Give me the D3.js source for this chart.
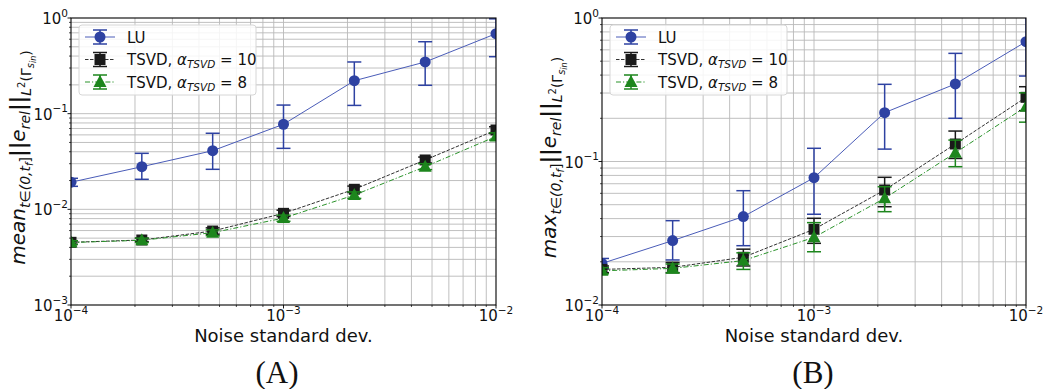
<!DOCTYPE html>
<html>
<head>
<meta charset="utf-8">
<script src="https://cdn.jsdelivr.net/npm/d3@7"></script>
<style>
  body { margin: 0; background: #fff; }
  text { font-family: "DejaVu Sans", sans-serif; fill: #111; }
</style>
</head>
<body>
<svg id="chart" width="1045" height="389"></svg>
<script>
// noise levels (x) shared by both panels
const noiseStd = [1e-4, 2.154e-4, 4.642e-4, 1e-3, 2.154e-3, 4.642e-3, 1e-2]

// (A) mean over time of relative error
const meanLU     = [0.0192, 0.0279, 0.0410, 0.0775, 0.221, 0.347, 0.686]
const meanLULo   = [0.0174, 0.0206, 0.0262, 0.0434, 0.122, 0.198, 0.394]
const meanLUHi   = [0.0211, 0.0385, 0.0624, 0.123, 0.347, 0.565, 0.98]
const meanT10    = [0.00452, 0.00478, 0.00593, 0.00908, 0.0162, 0.0328, 0.0675]
const meanT10Lo  = [0.0043, 0.0046, 0.0055, 0.0084, 0.0150, 0.0305, 0.0620]
const meanT10Hi  = [0.0047, 0.0050, 0.0064, 0.0098, 0.0175, 0.0352, 0.0730]
const meanT8     = [0.00450, 0.00475, 0.00570, 0.00810, 0.0141, 0.0279, 0.0578]
const meanT8Lo   = [0.0043, 0.0045, 0.0053, 0.0075, 0.0130, 0.0260, 0.0530]
const meanT8Hi   = [0.0047, 0.0050, 0.0061, 0.0087, 0.0152, 0.0300, 0.0630]

// (B) max over time of relative error
const maxLU      = [0.0195, 0.0281, 0.0413, 0.0771, 0.219, 0.347, 0.684]
const maxLULo    = [0.0180, 0.0206, 0.0259, 0.0429, 0.122, 0.200, 0.394]
const maxLUHi    = [0.0211, 0.0387, 0.0626, 0.1236, 0.345, 0.567, 1.05]
const maxT10     = [0.0177, 0.0183, 0.0215, 0.0337, 0.0633, 0.1324, 0.280]
const maxT10Lo   = [0.0168, 0.0168, 0.0187, 0.0269, 0.0484, 0.105, 0.226]
const maxT10Hi   = [0.0187, 0.0198, 0.0245, 0.0402, 0.0776, 0.163, 0.332]
const maxT8      = [0.0173, 0.0180, 0.0204, 0.0296, 0.0554, 0.115, 0.241]
const maxT8Lo    = [0.0165, 0.0167, 0.0177, 0.0235, 0.0447, 0.092, 0.188]
const maxT8Hi    = [0.0182, 0.0193, 0.0231, 0.0375, 0.0667, 0.141, 0.301]

const xTickExps = [-4, -3, -2]
const xLabel = "Noise standard dev."
const panelTags = ["(A)", "(B)"]

const styles = [
    {color: "#2e42a2", lineColor: "#4a5cb8", marker: "circle", dash: null},
    {color: "#1a1a1a", lineColor: "#333", marker: "square", dash: "3.5,1.5"},
    {color: "#1d861d", lineColor: "#2a932a", marker: "triangle", dash: "5,2,1.2,2"},
]

const panels = [
    {left: 71, right: 496, top: 18, bottom: 305, yExps: [-3, 0], op: "mean", cx: 25, tagX: 277,
     series: [[meanLU, meanLULo, meanLUHi], [meanT10, meanT10Lo, meanT10Hi], [meanT8, meanT8Lo, meanT8Hi]]},
    {left: 602, right: 1026, top: 18, bottom: 305, yExps: [-2, 0], op: "max", cx: 556, tagX: 813,
     series: [[maxLU, maxLULo, maxLUHi], [maxT10, maxT10Lo, maxT10Hi], [maxT8, maxT8Lo, maxT8Hi]]},
]

const svg = d3.select("#chart")

function powLabel(sel, exp, anchor) {
    const t = sel.append("text").attr("text-anchor", anchor).style("font-size", "15px")
    t.append("tspan").text("10")
    t.append("tspan").attr("dy", -7.5).style("font-size", "10.5px").text(exp < 0 ? "\u2212" + (-exp) : String(exp))
    return t
}

function drawMarker(g, type, x, y, color) {
    if (type === "circle") g.append("circle").attr("cx", x).attr("cy", y).attr("r", 5.5).attr("fill", color)
    else if (type === "square") g.append("rect").attr("x", x - 5.5).attr("y", y - 5.5).attr("width", 11).attr("height", 11).attr("fill", color)
    else g.append("path").attr("d", `M${x},${y - 7}L${x + 6.5},${y + 5}L${x - 6.5},${y + 5}Z`).attr("fill", color)
}

function errBar(g, x, y0, y1, color, cap) {
    g.append("line").attr("x1", x).attr("x2", x).attr("y1", y0).attr("y2", y1).attr("stroke", color).attr("stroke-width", 1.5)
    ;[y0, y1].forEach(y => g.append("line").attr("x1", x - cap).attr("x2", x + cap).attr("y1", y).attr("y2", y)
        .attr("stroke", color).attr("stroke-width", 1.5))
}

panels.forEach((p, pi) => {
    const x = d3.scaleLog().domain([1e-4, 1e-2]).range([p.left, p.right])
    const y = d3.scaleLog().domain([10 ** p.yExps[0], 10 ** p.yExps[1]]).range([p.bottom, p.top])
    const g = svg.append("g")

    // grid, major + minor
    const xAll = [], yAll = []
    for (let e = -4; e < -2; e++) for (let m = 1; m < 10; m++) xAll.push(m * 10 ** e)
    for (let e = p.yExps[0]; e < p.yExps[1]; e++) for (let m = 1; m < 10; m++) yAll.push(m * 10 ** e)
    g.selectAll(".gx").data(xAll.slice(1)).join("line")
        .attr("x1", d => x(d)).attr("x2", d => x(d)).attr("y1", p.top).attr("y2", p.bottom)
        .attr("stroke", "#b9b9b9").attr("stroke-width", 0.9)
    g.selectAll(".gy").data(yAll.slice(1)).join("line")
        .attr("y1", d => y(d)).attr("y2", d => y(d)).attr("x1", p.left).attr("x2", p.right)
        .attr("stroke", "#b9b9b9").attr("stroke-width", 0.9)

    // ticks
    xAll.concat([1e-2]).forEach(d => {
        const major = Math.abs(Math.log10(d) - Math.round(Math.log10(d))) < 1e-9
        g.append("line").attr("x1", x(d)).attr("x2", x(d)).attr("y1", p.bottom).attr("y2", p.bottom + (major ? 3.5 : 2))
            .attr("stroke", "#000").attr("stroke-width", major ? 0.9 : 0.7)
    })
    yAll.concat([1]).forEach(d => {
        const major = Math.abs(Math.log10(d) - Math.round(Math.log10(d))) < 1e-9
        g.append("line").attr("y1", y(d)).attr("y2", y(d)).attr("x1", p.left).attr("x2", p.left - (major ? 3.5 : 2))
            .attr("stroke", "#000").attr("stroke-width", major ? 0.9 : 0.7)
    })
    xTickExps.forEach(e => powLabel(g, e, "middle").attr("x", x(10 ** e)).attr("y", p.bottom + 16))
    for (let e = p.yExps[0]; e <= p.yExps[1]; e++)
        powLabel(g, e, "end").attr("x", p.left - 3).attr("y", y(10 ** e) + 6)

    // data, clipped to axes
    const clipId = "clip" + pi
    svg.append("clipPath").attr("id", clipId).append("rect")
        .attr("x", p.left).attr("y", p.top).attr("width", p.right - p.left).attr("height", p.bottom - p.top)
    const dg = g.append("g").attr("clip-path", `url(#${clipId})`)
    p.series.forEach(([vals, lo, hi], si) => {
        const st = styles[si]
        const line = d3.line().x((d, i) => x(noiseStd[i])).y(d => y(d))
        dg.append("path").attr("d", line(vals)).attr("fill", "none").attr("stroke", st.lineColor)
            .attr("stroke-width", 1).attr("stroke-dasharray", st.dash)
        vals.forEach((v, i) => errBar(dg, x(noiseStd[i]), y(lo[i]), y(hi[i]), st.color, 7))
        vals.forEach((v, i) => drawMarker(dg, st.marker, x(noiseStd[i]), y(v), st.color))
    })

    // frame
    g.append("rect").attr("x", p.left).attr("y", p.top).attr("width", p.right - p.left).attr("height", p.bottom - p.top)
        .attr("fill", "none").attr("stroke", "#000").attr("stroke-width", 1.1)

    // legend
    const lg = g.append("g").attr("transform", `translate(${p.left + 8},${p.top + 7})`)
    lg.append("rect").attr("width", 177).attr("height", 70).attr("rx", 3)
        .attr("fill", "#fff").attr("fill-opacity", 0.85).attr("stroke", "#d6d6d6")
    styles.forEach((st, si) => {
        const cy = 12 + si * 22.5
        lg.append("line").attr("x1", 6).attr("x2", 36).attr("y1", cy).attr("y2", cy)
            .attr("stroke", st.lineColor).attr("stroke-width", 1).attr("stroke-dasharray", st.dash)
        errBar(lg, 21, cy - 7, cy + 7, st.color, 7)
        drawMarker(lg, st.marker, 21, cy, st.color)
        const t = lg.append("text").attr("x", 48).attr("y", cy + 5.5).style("font-size", "15px")
        if (si === 0) t.text("LU")
        else {
            t.append("tspan").text("TSVD, ")
            t.append("tspan").style("font-style", "italic").text("\u03b1")
            t.append("tspan").attr("dy", 3).style("font-style", "italic").style("font-size", "10.5px").text("TSVD")
            t.append("tspan").attr("dy", -3).text(" = " + (si === 1 ? "10" : "8"))
        }
    })

    // x label and panel tag
    g.append("text").attr("x", (p.left + p.right) / 2).attr("y", p.bottom + 37).attr("text-anchor", "middle")
        .style("font-size", "18px").text(xLabel)
    g.append("text").attr("x", p.tagX).attr("y", 383).attr("text-anchor", "middle")
        .style("font-family", "'Liberation Serif', serif").style("font-size", "31px").text(panelTags[pi])

    // y label (math)
    const yl = g.append("text").attr("transform", `translate(${p.cx},${(p.top + p.bottom) / 2 - 4}) rotate(-90)`)
        .attr("text-anchor", "middle").style("font-size", "20px")
    const parts = [
        [p.op, 20, 0, true], ["t\u2208(0,t", 14, 5, true], ["f", 10, 3, true], ["]", 14, -3, false],
        ["||", 21, -5, false], ["e", 20, 0, true], ["rel", 14, 5, true], ["||", 21, -5, false],
        ["L", 14, 6, true], ["2", 10, -6, false], ["(\u0393", 14, 6, false], ["s", 10, 3, true],
        ["in", 8, 2, true], [")", 14, -5, false],
    ]
    parts.forEach(([txt, fs, dy, it]) => yl.append("tspan").attr("dy", dy).style("font-size", fs + "px")
        .style("font-style", it ? "italic" : "normal").style("font-weight", txt === "||" ? "bold" : "normal").text(txt))
})
</script>
</body>
</html>
